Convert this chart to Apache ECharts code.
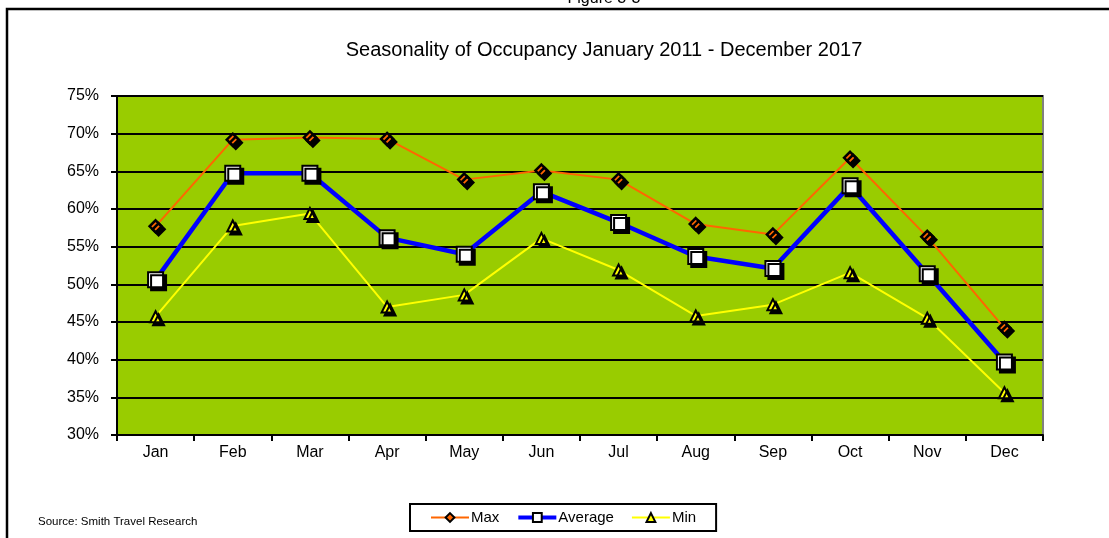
<!DOCTYPE html>
<html>
<head>
<meta charset="utf-8">
<script src="https://cdn.jsdelivr.net/npm/echarts@6/dist/echarts.min.js"></script>
<style>
  html, body { margin: 0; padding: 0; background: #fff; }
  #chart { width: 1109px; height: 538px; }
</style>
</head>
<body>
<div id="chart"></div>
<script>
const months = ['Jan', 'Feb', 'Mar', 'Apr', 'May', 'Jun', 'Jul', 'Aug', 'Sep', 'Oct', 'Nov', 'Dec'];
const maxValues = [57.7, 69.2, 69.5, 69.3, 63.9, 65.1, 63.9, 58.0, 56.6, 66.8, 56.3, 44.2];
const avgValues = [50.6, 64.75, 64.75, 56.2, 54.0, 62.3, 58.2, 53.7, 52.1, 63.1, 51.4, 39.7];
const minValues = [45.7, 57.75, 59.4, 47.0, 48.6, 56.1, 51.9, 45.8, 47.3, 51.55, 45.5, 35.6];
const yTicks = { min: 30, max: 75, step: 5 };

const FONT = '"Liberation Sans", Arial, sans-serif';

const chart = echarts.init(document.getElementById('chart'));

// excel style drop shadow under the markers
const shadow = {
  shadowColor: '#000',
  shadowBlur: 0,
  shadowOffsetX: 3,
  shadowOffsetY: 3
};

chart.setOption({
  backgroundColor: '#fff',
  animation: false,
  textStyle: { fontFamily: FONT },
  graphic: [
    {
      type: 'rect',
      shape: { x: 7, y: 9, width: 1120, height: 560 },
      style: { fill: 'none', stroke: '#000', lineWidth: 2.5 },
      silent: true
    },
    {
      type: 'text',
      x: 604,
      y: -9,
      style: { text: 'Figure 3-3', align: 'center', fontFamily: FONT, fontSize: 16, fill: '#000' }
    },
    {
      type: 'text',
      x: 604,
      y: 40,
      style: {
        text: 'Seasonality of Occupancy January 2011 - December 2017',
        align: 'center', fontFamily: FONT, fontSize: 20, fill: '#000'
      }
    },
    {
      type: 'text',
      x: 38,
      y: 516,
      style: { text: 'Source: Smith Travel Research', fontFamily: FONT, fontSize: 11.5, fill: '#000' }
    }
  ],
  legend: {
    left: 410,
    top: 504,
    padding: [6, 20, 6, 20],
    borderColor: '#000',
    borderWidth: 2,
    itemWidth: 38,
    itemHeight: 11,
    itemGap: 17,
    textStyle: { fontFamily: FONT, fontSize: 15, color: '#000', padding: [0, 0, 0, -3] },
    data: [
      { name: 'Max', lineStyle: { width: 2 } },
      { name: 'Average', lineStyle: { width: 4 } },
      { name: 'Min', lineStyle: { width: 2 } }
    ]
  },
  grid: {
    left: 117,
    top: 96,
    right: 66,
    bottom: 103,
    show: true,
    backgroundColor: '#99CC00',
    borderColor: '#808080',
    borderWidth: 2
  },
  xAxis: {
    type: 'category',
    data: months,
    boundaryGap: true,
    axisLine: { lineStyle: { color: '#000', width: 2 } },
    axisTick: { show: true, length: 6, lineStyle: { color: '#000', width: 2 } },
    axisLabel: { color: '#000', fontSize: 16, margin: 10, fontFamily: FONT }
  },
  yAxis: {
    type: 'value',
    min: yTicks.min,
    max: yTicks.max,
    interval: yTicks.step,
    axisLine: { show: true, lineStyle: { color: '#000', width: 2 } },
    axisTick: { show: true, length: 6, lineStyle: { color: '#000', width: 2 } },
    axisLabel: { color: '#000', fontSize: 16, margin: 18, fontFamily: FONT, formatter: v => v + '%' },
    splitLine: { lineStyle: { color: '#000', width: 2 } }
  },
  series: [
    {
      name: 'Max',
      type: 'line',
      data: maxValues,
      symbol: 'diamond',
      symbolSize: 12,
      lineStyle: { color: '#FF6600', width: 2 },
      itemStyle: Object.assign({ color: '#FF6600', borderColor: '#000', borderWidth: 2.5 }, shadow),
      z: 3
    },
    {
      name: 'Average',
      type: 'line',
      data: avgValues,
      symbol: 'rect',
      symbolSize: 15,
      lineStyle: { color: '#0000FF', width: 4.5 },
      itemStyle: Object.assign({ color: '#fff', borderColor: '#000', borderWidth: 2 }, shadow),
      z: 4
    },
    {
      name: 'Min',
      type: 'line',
      data: minValues,
      symbol: 'triangle',
      symbolSize: 11,
      lineStyle: { color: '#FFFF00', width: 2 },
      itemStyle: Object.assign({ color: '#FFFF00', borderColor: '#000', borderWidth: 2 }, shadow),
      z: 2
    }
  ]
});
</script>
</body>
</html>
